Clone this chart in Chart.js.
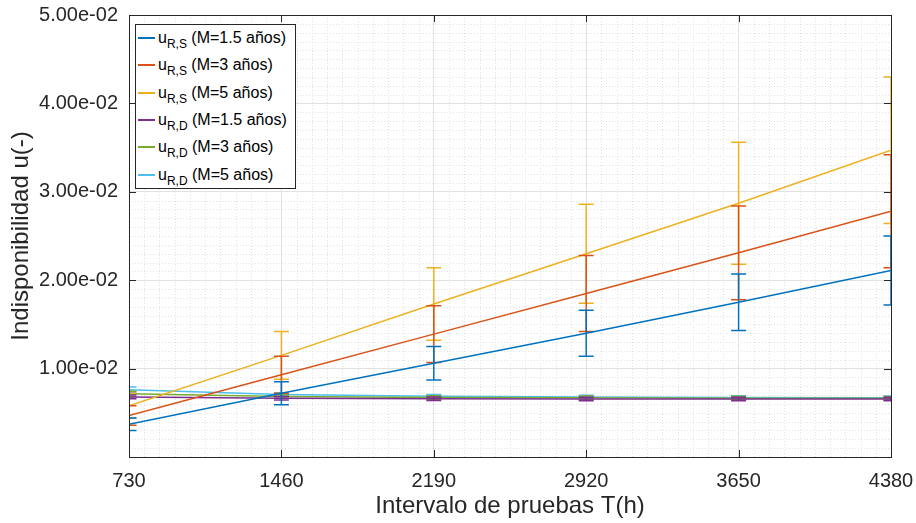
<!DOCTYPE html>
<html><head><meta charset="utf-8">
<script src="https://cdn.jsdelivr.net/npm/chart.js@4/dist/chart.umd.min.js"></script>
<style>
body{margin:0;background:#fff;}
#wrap{position:relative;width:916px;height:523px;overflow:hidden;}
#c{position:absolute;left:0;top:0;}
#legend{position:absolute;left:135px;top:24px;width:161px;height:165px;box-sizing:border-box;border:1px solid #262626;background:#fff;font-family:"Liberation Sans",Arial,sans-serif;font-size:16px;color:#000;}
.row{position:absolute;left:0;height:27px;line-height:20px;white-space:nowrap;}
.sw{position:absolute;left:2px;top:9px;width:17px;height:0;border-top:2px solid #000;}
.tx{position:absolute;left:22px;top:0;}
.tx sub{font-size:12px;vertical-align:-5px;line-height:0;}
</style></head>
<body><div id="wrap"><canvas id="c" width="916" height="523"></canvas><div id="legend"></div></div>
<script>
const tiempos = [730, 1460, 2190, 2920, 3650, 4380];
const yTicks = [0, 0.01, 0.02, 0.03, 0.04, 0.05];

const uRS_15 = [0.0037, 0.0072, 0.0106, 0.0140, 0.0175, 0.0211];
const uRS_3  = [0.0047, 0.0093, 0.0139, 0.0185, 0.0231, 0.0278];
const uRS_5  = [0.0058, 0.0115, 0.0173, 0.0230, 0.0287, 0.0347];
const uRD_15 = [0.00680, 0.00665, 0.00660, 0.00657, 0.00656, 0.00655];
const uRD_3  = [0.00715, 0.00684, 0.00674, 0.00669, 0.00666, 0.00664];
const uRD_5  = [0.00762, 0.00706, 0.00688, 0.00679, 0.00674, 0.00670];

const eRS_15 = [0.0007, 0.0013, 0.0019, 0.0026, 0.0032, 0.0039];
const eRS_3  = [0.0011, 0.0021, 0.0032, 0.0043, 0.0053, 0.0064];
const eRS_5  = [0.0014, 0.0027, 0.0041, 0.0056, 0.0069, 0.0083];
const eRD_15 = [0.0002, 0.0002, 0.0002, 0.0002, 0.0002, 0.0002];
const eRD_3  = [0.0003, 0.0002, 0.0002, 0.0002, 0.0002, 0.0002];
const eRD_5  = [0.0003, 0.0002, 0.0002, 0.0002, 0.0002, 0.0002];

const subs   = ['R,S', 'R,S', 'R,S', 'R,D', 'R,D', 'R,D'];
const etiquetas = [' (M=1.5 años)', ' (M=3 años)', ' (M=5 años)', ' (M=1.5 años)', ' (M=3 años)', ' (M=5 años)'];
const colores = ['#0072BD', '#D95319', '#EDB120', '#7E2F8E', '#77AC30', '#4DBEEE'];
const series = [uRS_15, uRS_3, uRS_5, uRD_15, uRD_3, uRD_5];
const errores = [eRS_15, eRS_3, eRS_5, eRD_15, eRD_3, eRD_5];

// legend
const leg = document.getElementById('legend');
series.forEach((s, i) => {
  const r = document.createElement('div');
  r.className = 'row';
  r.style.top = (3 + i * 27.3) + 'px';
  r.innerHTML = '<span class="sw" style="border-color:' + colores[i] + '"></span><span class="tx">u<sub>' + subs[i] + '</sub>' + etiquetas[i] + '</span>';
  leg.appendChild(r);
});

const datasets = series.map((s, i) => ({
  label: 'u' + subs[i] + etiquetas[i],
  data: tiempos.map((t, j) => ({x: t, y: s[j]})),
  err: errores[i],
  borderColor: colores[i],
  backgroundColor: colores[i],
  borderWidth: 1.5,
  pointRadius: 0,
  tension: 0,
  clip: 0
}));

const AX = '#262626';

const framePlugin = {
  id: 'frame',
  beforeDatasetsDraw(chart) {
    const {ctx, chartArea: a, scales: {x, y}} = chart;
    ctx.save();
    ctx.strokeStyle = '#e2e2e2';
    ctx.lineWidth = 1;
    ctx.setLineDash([1, 2]);
    for (let i = 0; i < tiempos.length - 1; i++) {
      for (let k = 1; k < 10; k++) {
        const v = tiempos[i] + (tiempos[i + 1] - tiempos[i]) * k / 10;
        const px = Math.round(x.getPixelForValue(v)) + 0.5;
        ctx.beginPath(); ctx.moveTo(px, a.top); ctx.lineTo(px, a.bottom); ctx.stroke();
      }
    }
    for (let i = 0; i < yTicks.length - 1; i++) {
      for (let k = 1; k < 10; k++) {
        const v = yTicks[i] + (yTicks[i + 1] - yTicks[i]) * k / 10;
        const py = Math.round(y.getPixelForValue(v)) + 0.5;
        ctx.beginPath(); ctx.moveTo(a.left, py); ctx.lineTo(a.right, py); ctx.stroke();
      }
    }
    ctx.restore();
  },
  afterDatasetDraw(chart, args) {
    const {ctx, chartArea: a, scales: {x, y}} = chart;
    const ds = chart.data.datasets[args.index];
    ctx.save();
    ctx.beginPath(); ctx.rect(a.left, a.top, a.right - a.left, a.bottom - a.top); ctx.clip();
    ctx.strokeStyle = ds.borderColor;
    ctx.lineWidth = 1.5;
    ds.data.forEach((p, j) => {
      const e = ds.err[j];
      const px = x.getPixelForValue(p.x);
      const y1 = y.getPixelForValue(p.y + e);
      const y2 = y.getPixelForValue(p.y - e);
      ctx.beginPath();
      ctx.moveTo(px, y1); ctx.lineTo(px, y2);
      ctx.moveTo(px - 7.5, y1); ctx.lineTo(px + 7.5, y1);
      ctx.moveTo(px - 7.5, y2); ctx.lineTo(px + 7.5, y2);
      ctx.stroke();
    });
    ctx.restore();
  },
  afterDraw(chart) {
    const {ctx, chartArea: a, scales: {x, y}} = chart;
    ctx.save();
    ctx.strokeStyle = AX;
    ctx.lineWidth = 1;
    ctx.strokeRect(Math.round(a.left) + 0.5, Math.round(a.top) + 0.5, Math.round(a.right - a.left), Math.round(a.bottom - a.top));
    ctx.beginPath();
    x.ticks.forEach(t => {
      const px = Math.round(x.getPixelForValue(t.value)) + 0.5;
      ctx.moveTo(px, a.bottom); ctx.lineTo(px, a.bottom - 7);
      ctx.moveTo(px, a.top); ctx.lineTo(px, a.top + 7);
    });
    y.ticks.forEach(t => {
      const py = Math.round(y.getPixelForValue(t.value)) + 0.5;
      ctx.moveTo(a.left, py); ctx.lineTo(a.left + 7, py);
      ctx.moveTo(a.right, py); ctx.lineTo(a.right - 7, py);
    });
    ctx.stroke();
    ctx.restore();
  }
};

function fmtExp(v) {
  const [m, e] = v.toExponential(2).split('e');
  const n = parseInt(e, 10);
  const s = n < 0 ? '-' : '+';
  return m + 'e' + s + String(Math.abs(n)).padStart(2, '0');
}

new Chart(document.getElementById('c'), {
  type: 'line',
  data: {datasets},
  plugins: [framePlugin],
  options: {
    responsive: false,
    animation: false,
    layout: {padding: {top: 15, right: 25, left: 0, bottom: 0}},
    plugins: {legend: {display: false}, tooltip: {enabled: false}},
    scales: {
      x: {
        type: 'linear', min: 730, max: 4380,
        afterBuildTicks: s => { s.ticks = tiempos.map(v => ({value: v})); },
        afterFit: s => { s.height = 66; s.paddingLeft = 0; s.paddingRight = 0; },
        ticks: {font: {family: '"Liberation Sans", Arial, sans-serif', size: 20}, color: AX, padding: 12, maxRotation: 0, callback: v => String(v)},
        grid: {color: '#e1e1e1', drawTicks: false},
        border: {color: AX, width: 1},
        title: {display: true, text: 'Intervalo de pruebas T(h)', font: {family: '"Liberation Sans", Arial, sans-serif', size: 24}, color: AX, padding: {top: 0, bottom: 2}}
      },
      y: {
        type: 'linear', min: 0, max: 0.05,
        afterBuildTicks: s => { s.ticks = yTicks.map(v => ({value: v})); },
        afterFit: s => { s.width = 129; s.paddingTop = 0; s.paddingBottom = 0; },
        ticks: {font: {family: '"Liberation Sans", Arial, sans-serif', size: 20}, color: AX, padding: 11, callback: v => v === 0 ? '' : fmtExp(v)},
        grid: {color: '#e1e1e1', drawTicks: false},
        border: {color: AX, width: 1},
        title: {display: true, text: 'Indisponibilidad u(-)', font: {family: '"Liberation Sans", Arial, sans-serif', size: 24}, color: AX, padding: {top: 7, bottom: 0}}
      }
    }
  }
});
</script></body></html>
